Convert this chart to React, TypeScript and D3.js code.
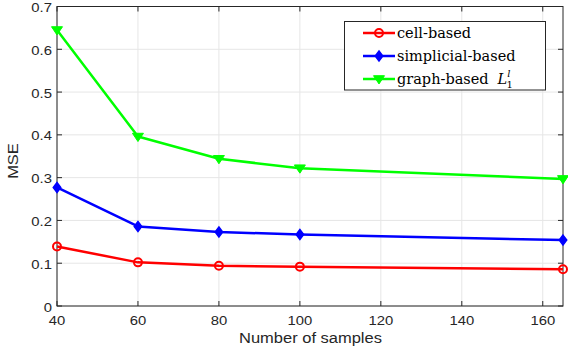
import React from "react";
import * as d3 from "d3";

const samples = [40, 60, 80, 100, 165];
const cellBased = [0.139, 0.102, 0.094, 0.092, 0.086];
const simplicialBased = [0.277, 0.186, 0.173, 0.167, 0.154];
const graphBased = [0.645, 0.396, 0.344, 0.322, 0.297];
const xTicks = [40, 60, 80, 100, 120, 140, 160];
const yTicks = [0, 0.1, 0.2, 0.3, 0.4, 0.5, 0.6, 0.7];

const W = 568;
const H = 348;
const mLeft = 57;
const mRight = 5;
const mTop = 6.5;
const mBottom = 42;

const axisColor = "#262626";
const gridColor = "#e6e6e6";
const tickFont = "'Liberation Sans', Arial, sans-serif";
const legendFont = "'DejaVu Serif', 'Liberation Serif', serif";

export default function App() {
  const x = d3.scaleLinear().domain([40, 165]).range([mLeft, W - mRight]);
  const y = d3.scaleLinear().domain([0, 0.7]).range([H - mBottom, mTop]);
  const line = d3
    .line<number>()
    .x((_, i) => x(samples[i]))
    .y((d) => y(d));

  const series = [
    { name: "cell-based", color: "#ff0000", values: cellBased, marker: "circle" },
    { name: "simplicial-based", color: "#0000ff", values: simplicialBased, marker: "diamond" },
    { name: "graph-based", color: "#00ff00", values: graphBased, marker: "triangle" },
  ];

  const marker = (type: string, cx: number, cy: number, color: string, key: any) => {
    if (type === "circle") {
      return <circle key={key} cx={cx} cy={cy} r={4} fill="none" stroke={color} strokeWidth={2} />;
    }
    if (type === "diamond") {
      const s = 5;
      return (
        <path
          key={key}
          d={`M${cx},${cy - s}L${cx + s * 0.75},${cy}L${cx},${cy + s}L${cx - s * 0.75},${cy}Z`}
          fill={color}
          stroke={color}
          strokeWidth={1.5}
        />
      );
    }
    const s = 5.5;
    return (
      <path
        key={key}
        d={`M${cx - s},${cy - s * 0.6}L${cx + s},${cy - s * 0.6}L${cx},${cy + s * 0.9}Z`}
        fill={color}
        stroke={color}
        strokeWidth={1}
      />
    );
  };

  const x0 = x(40);
  const x1 = W - mRight;
  const y0 = H - mBottom;
  const y1 = mTop;

  const legX = 344.5;
  const legY = 21.5;
  const legW = 201;
  const legH = 68.5;
  const rowY = [33, 56, 79];

  // sans text stretched a little wider, like the reference
  const sText = (key: any, tx: number, ty: number, label: string, anchor: string, size: number, rot = 0) => (
    <text
      key={key}
      transform={`translate(${tx},${ty}) rotate(${rot}) scale(1.1,1)`}
      textAnchor={anchor}
      fontFamily={tickFont}
      fontSize={size}
      fill={axisColor}
    >
      {label}
    </text>
  );

  return (
    <svg width={W} height={H} style={{ position: "absolute", left: 0, top: 0, background: "#fff" }}>
      {/* grid */}
      {xTicks.map((t) => (
        <line key={"gx" + t} x1={x(t)} x2={x(t)} y1={y0} y2={y1} stroke={gridColor} strokeWidth={1} />
      ))}
      {yTicks.map((t) => (
        <line key={"gy" + t} x1={x0} x2={x1} y1={y(t)} y2={y(t)} stroke={gridColor} strokeWidth={1} />
      ))}

      {/* box */}
      <rect x={x0} y={y1} width={x1 - x0} height={y0 - y1} fill="none" stroke={axisColor} strokeWidth={1} />
      {xTicks.map((t) => (
        <g key={"tx" + t}>
          <line x1={x(t)} x2={x(t)} y1={y0} y2={y0 - 5} stroke={axisColor} />
          <line x1={x(t)} x2={x(t)} y1={y1} y2={y1 + 5} stroke={axisColor} />
          {sText("l", x(t), y0 + 19, String(t), "middle", 13.5)}
        </g>
      ))}
      {yTicks.map((t) => (
        <g key={"ty" + t}>
          <line x1={x0} x2={x0 + 5} y1={y(t)} y2={y(t)} stroke={axisColor} />
          <line x1={x1} x2={x1 - 5} y1={y(t)} y2={y(t)} stroke={axisColor} />
          {sText("l", x0 - 5, y(t) + 5.5, t === 0 ? "0" : d3.format(".1f")(t), "end", 13.5)}
        </g>
      ))}

      {sText("xl", (x0 + x1) / 2 + 0.5, 343, "Number of samples", "middle", 15)}
      {sText("yl", 18, 161, "MSE", "middle", 15, -90)}

      {/* series */}
      {series.map((s) => (
        <g key={s.name}>
          <path d={line(s.values) || ""} fill="none" stroke={s.color} strokeWidth={2.5} strokeLinejoin="round" />
          {s.values.map((v, i) => marker(s.marker, x(samples[i]), y(v), s.color, i))}
        </g>
      ))}

      {/* legend */}
      <rect x={legX} y={legY} width={legW} height={legH} fill="#fff" stroke={axisColor} strokeWidth={1} />
      {series.map((s, i) => (
        <g key={"leg" + s.name}>
          <line x1={363} x2={395} y1={rowY[i]} y2={rowY[i]} stroke={s.color} strokeWidth={2.5} />
          {marker(s.marker, 379, rowY[i], s.color, "m")}
          <text x={397} y={rowY[i] + 5} fontFamily={legendFont} fontSize={14.5} fill="#000">
            {s.name}
            {i === 2 ? (
              <tspan>
                <tspan dx={9} fontStyle="italic">L</tspan>
                <tspan fontStyle="italic" fontSize={10} dy={-7}>l</tspan>
                <tspan fontSize={10} dx={-4} dy={11}>1</tspan>
              </tspan>
            ) : null}
          </text>
        </g>
      ))}
    </svg>
  );
}
